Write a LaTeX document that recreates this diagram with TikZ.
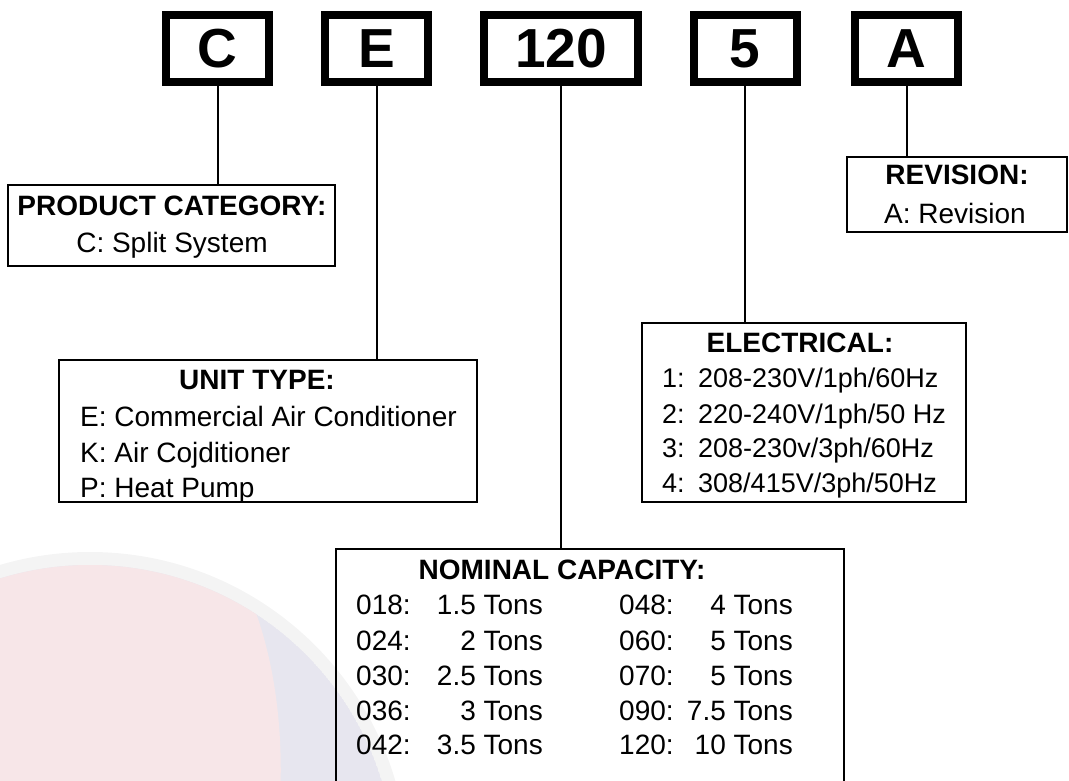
\documentclass[tikz,border=0pt]{standalone}
\usepackage{fontspec}
\setmainfont{Liberation Sans}
\definecolor{wmPink}{RGB}{247,230,232}
\definecolor{wmLav}{RGB}{231,230,239}
\definecolor{wmRing}{RGB}{244,244,244}
\tikzset{
  codebox/.style={draw, line width=8pt, minimum width=103pt, minimum height=67pt,
    inner sep=0pt, font=\fontsize{55}{55}\selectfont\bfseries},
  infobox/.style={draw, line width=2pt, inner sep=0pt, anchor=north west},
  linkln/.style={line width=2pt},
  headtxt/.style={font=\fontsize{28}{28}\selectfont\bfseries, inner sep=0pt, anchor=base},
  bodytxt/.style={font=\fontsize{28}{28}\selectfont, inner sep=0pt, anchor=base west},
  valtxt/.style={font=\fontsize{28}{28}\selectfont, inner sep=0pt, anchor=base east},
}

\begin{document}
\begin{tikzpicture}[x=1pt, y=-1pt]
    \useasboundingbox (0,0) rectangle (1069,781);
    \clip (0,0) rectangle (1069,781);
    % faint watermark, bottom left
    \begin{scope}
      \fill[wmRing] (90,870) circle (318);
      \clip (90,870) circle (305);
      \fill[wmLav] (90,870) circle (305);
      \fill[wmPink] (-300,500) -- (225,550)
        .. controls (265,610) and (285,700) .. (280,800) -- (-300,800) -- cycle;
    \end{scope}
    % top: model number
    \node[codebox] (codeC) at (217.5,48.5) {C};
    \node[codebox] (codeE) at (376.5,48.5) {E};
    \node[codebox, minimum width=154pt] (codeCap) at (561,48.5) {120};
    \node[codebox] (codeEl) at (745,48.5) {5};
    \node[codebox] (codeRev) at (906.5,48.5) {A};
    % info boxes
    \node[infobox, minimum width=327pt, minimum height=81pt] (catbox) at (7,184) {};
    \node[infobox, minimum width=418pt, minimum height=142pt] (unitbox) at (58,359) {};
    \node[infobox, minimum width=508pt, minimum height=300pt] (capbox) at (335,548) {};
    \node[infobox, minimum width=324pt, minimum height=179pt] (elecbox) at (641,322) {};
    \node[infobox, minimum width=220pt, minimum height=75pt] (revbox) at (846,156) {};
    % links
    \draw[linkln] (codeC.south) -- (codeC.south |- catbox.north);
    \draw[linkln] (codeE.south) -- (codeE.south |- unitbox.north);
    \draw[linkln] (codeCap.south) -- (codeCap.south |- capbox.north);
    \draw[linkln] (codeEl.south) -- (codeEl.south |- elecbox.north);
    \draw[linkln] (codeRev.south) -- (codeRev.south |- revbox.north);
    % product category
    \node[headtxt] (catHead) at (172,215) {PRODUCT CATEGORY:};
    \node[headtxt, font=\fontsize{28}{28}\selectfont] (catBody) at (172,252) {C: Split System};
    % unit type
    \node[headtxt] (unitHead) at (257,389) {UNIT TYPE:};
    \node[bodytxt] (unitE) at (80,426) {E: Commercial Air Conditioner};
    \node[bodytxt] (unitK) at (80,462) {K: Air Cojditioner};
    \node[bodytxt] (unitP) at (80,497) {P: Heat Pump};
    % electrical
    \node[headtxt] (elecHead) at (800,352) {ELECTRICAL:};
    \foreach \n/\v/\y in {1/208-230V\slash 1ph\slash 60Hz/387, 2/220-240V\slash 1ph\slash 50 Hz/423,
                          3/208-230v\slash 3ph\slash 60Hz/457, 4/308\slash 415V\slash 3ph\slash 50Hz/492}{
      \node[bodytxt, font=\fontsize{27}{27}\selectfont] (elecN\n) at (662,\y) {\n:};
      \node[bodytxt, font=\fontsize{27}{27}\selectfont] (elecV\n) at (698,\y) {\v};
    }
    % nominal capacity
    \node[headtxt] (capHead) at (562,579) {NOMINAL CAPACITY:};
    \foreach \a/\b/\c/\d/\y [count=\i] in {018/1.5/048/4/614, 024/2/060/5/650, 030/2.5/070/5/685,
                                           036/3/090/7.5/720, 042/3.5/120/10/754}{
      \node[bodytxt] (capL\i) at (356,\y) {\a:};
      \node[valtxt] (capLv\i) at (543,\y) {\b\ Tons};
      \node[bodytxt] (capR\i) at (619,\y) {\c:};
      \node[valtxt] (capRv\i) at (793,\y) {\d\ Tons};
    }
    % revision
    \node[headtxt] (revHead) at (957,185) {REVISION:};
    \node[headtxt, font=\fontsize{28}{28}\selectfont] (revBody) at (955,223) {A: Revision};
  \end{tikzpicture}
\end{document}
